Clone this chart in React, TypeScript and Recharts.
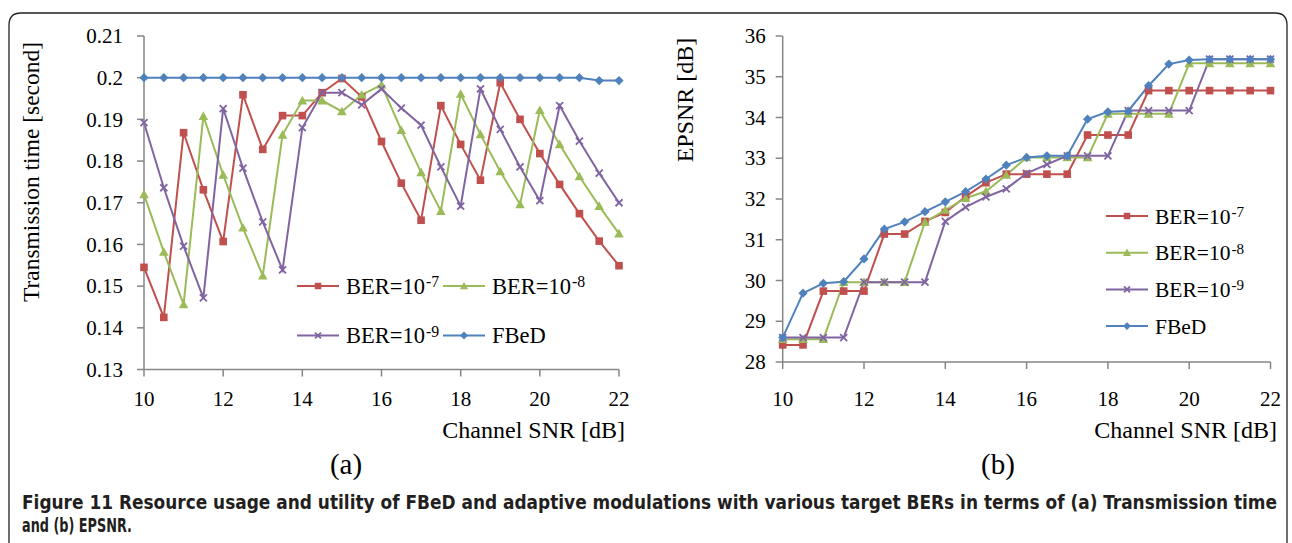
import { LineChart, Line, XAxis, YAxis, Legend, Label } from "recharts"

// Channel SNR sweep, dB
const snr = [10, 10.5, 11, 11.5, 12, 12.5, 13, 13.5, 14, 14.5, 15, 15.5, 16, 16.5, 17, 17.5, 18, 18.5, 19, 19.5, 20, 20.5, 21, 21.5, 22]

// Transmission time [s]
const timeBer7 = [0.1545, 0.1425, 0.1868, 0.1731, 0.1607, 0.1959, 0.1828, 0.1909, 0.1909, 0.1964, 0.1998, 0.1954, 0.1847, 0.1747, 0.1658, 0.1933, 0.184, 0.1754, 0.1988, 0.19, 0.1818, 0.1744, 0.1674, 0.1608, 0.1549]
const timeBer8 = [0.172, 0.1582, 0.1456, 0.1908, 0.1767, 0.164, 0.1525, 0.1863, 0.1945, 0.1945, 0.1919, 0.1959, 0.1983, 0.1874, 0.1773, 0.168, 0.1961, 0.1864, 0.1775, 0.1696, 0.1922, 0.184, 0.1763, 0.1692, 0.1626]
const timeBer9 = [0.1892, 0.1736, 0.1596, 0.1472, 0.1926, 0.1783, 0.1654, 0.1539, 0.188, 0.1964, 0.1964, 0.1935, 0.1973, 0.1927, 0.1886, 0.1786, 0.1692, 0.1973, 0.1876, 0.1786, 0.1705, 0.1933, 0.1848, 0.1771, 0.17]
const timeFbed = [0.2, 0.2, 0.2, 0.2, 0.2, 0.2, 0.2, 0.2, 0.2, 0.2, 0.2, 0.2, 0.2, 0.2, 0.2, 0.2, 0.2, 0.2, 0.2, 0.2, 0.2, 0.2, 0.2, 0.1993, 0.1993]

// EPSNR [dB]
const psnrBer7 = [28.42, 28.42, 29.74, 29.74, 29.74, 31.14, 31.14, 31.45, 31.67, 32.06, 32.4, 32.61, 32.61, 32.61, 32.61, 33.57, 33.57, 33.57, 34.66, 34.66, 34.66, 34.66, 34.66, 34.66, 34.66]
const psnrBer8 = [28.56, 28.56, 28.56, 29.96, 29.96, 29.96, 29.96, 31.43, 31.73, 32.02, 32.19, 32.59, 33.02, 33.02, 33.02, 33.02, 34.09, 34.09, 34.09, 34.09, 35.33, 35.33, 35.33, 35.33, 35.33]
const psnrBer9 = [28.6, 28.6, 28.6, 28.6, 29.96, 29.96, 29.96, 29.96, 31.45, 31.8, 32.05, 32.25, 32.63, 32.85, 33.06, 33.06, 33.06, 34.17, 34.17, 34.17, 34.17, 35.43, 35.43, 35.43, 35.43]
const psnrFbed = [28.6, 29.69, 29.93, 29.97, 30.53, 31.26, 31.44, 31.69, 31.93, 32.18, 32.49, 32.83, 33.02, 33.06, 33.06, 33.96, 34.14, 34.16, 34.78, 35.31, 35.41, 35.43, 35.43, 35.43, 35.43]

const snrTicks = [10, 12, 14, 16, 18, 20, 22]
const timeTicks = [0.13, 0.14, 0.15, 0.16, 0.17, 0.18, 0.19, 0.2, 0.21]
const psnrTicks = [28, 29, 30, 31, 32, 33, 34, 35, 36]

const serif = '"Liberation Serif", "Times New Roman", serif'
const axisGray = "#868686"

type Shape = "square" | "triangle" | "cross" | "diamond"

const series: { key: string; label: string; sup: string; color: string; shape: Shape }[] = [
  { key: "ber7", label: "BER=10", sup: "-7", color: "#C0504D", shape: "square" },
  { key: "ber8", label: "BER=10", sup: "-8", color: "#9BBB59", shape: "triangle" },
  { key: "ber9", label: "BER=10", sup: "-9", color: "#8064A2", shape: "cross" },
  { key: "fbed", label: "FBeD", sup: "", color: "#4F81BD", shape: "diamond" },
]

const timeData = snr.map((s, i) => ({
  snr: s,
  ber7: timeBer7[i],
  ber8: timeBer8[i],
  ber9: timeBer9[i],
  fbed: timeFbed[i],
}))

const psnrData = snr.map((s, i) => ({
  snr: s,
  ber7: psnrBer7[i],
  ber8: psnrBer8[i],
  ber9: psnrBer9[i],
  fbed: psnrFbed[i],
}))

function Marker({ cx, cy, shape, color, s = 1 }: { cx: number; cy: number; shape: Shape; color: string; s?: number }) {
  if (shape === "square") {
    const h = 3.8 * s
    return <rect x={cx - h} y={cy - h} width={2 * h} height={2 * h} fill={color} />
  }
  if (shape === "triangle") {
    const h = 4.8 * s
    return <polygon points={`${cx},${cy - h} ${cx + h},${cy + h * 0.8} ${cx - h},${cy + h * 0.8}`} fill={color} />
  }
  if (shape === "cross") {
    const h = 3.5 * s
    return (
      <g stroke={color} strokeWidth={1.8}>
        <line x1={cx - h} y1={cy - h} x2={cx + h} y2={cy + h} />
        <line x1={cx - h} y1={cy + h} x2={cx + h} y2={cy - h} />
      </g>
    )
  }
  const h = 4.6 * s
  return <polygon points={`${cx},${cy - h} ${cx + h},${cy} ${cx},${cy + h} ${cx - h},${cy}`} fill={color} />
}

function dotFor(shape: Shape, color: string) {
  return (p: any) => (
    <g key={`${shape}-${p.index}`}>
      <Marker cx={p.cx} cy={p.cy} shape={shape} color={color} />
    </g>
  )
}

// tick text drawn by hand so it keeps the serif face
function XTick(p: any) {
  return (
    <text x={p.x} y={p.y} dy="0.71em" textAnchor="middle" fontSize={21} fontFamily={serif} style={{ fontFamily: serif }} fill="#000">
      {p.payload.value}
    </text>
  )
}

function YTick(p: any) {
  return (
    <text x={p.x} y={p.y} dy="0.34em" textAnchor="end" fontSize={21} fontFamily={serif} style={{ fontFamily: serif }} fill="#000">
      {String(+Number(p.payload.value).toFixed(2))}
    </text>
  )
}

// legend laid out as a small grid of line + marker + label entries
function LegendGrid({ cols, colGap, rowGap, fontSize, width, height }: { cols: number; colGap: number; rowGap: number; fontSize: number; width: number; height: number }) {
  return (
    <svg width={width} height={height} style={{ display: "block" }}>
      {series.map((s, i) => {
        const x = (i % cols) * colGap + 4
        const y = Math.floor(i / cols) * rowGap + 18
        const tx = x + 49
        const labelW = s.sup ? fontSize * 3.51 : undefined
        return (
          <g key={s.key}>
            <line x1={x} y1={y} x2={x + 42} y2={y} stroke={s.color} strokeWidth={2} />
            <Marker cx={x + 21} cy={y} shape={s.shape} color={s.color} s={0.85} />
            <text x={tx} y={y + 7.5} fontSize={fontSize} fontFamily={serif} fill="#000">
              {s.label}
            </text>
            {labelW && (
              <text x={tx + labelW + 1} y={y + 1} fontSize={fontSize * 0.7} fontFamily={serif} fill="#000">
                {s.sup}
              </text>
            )}
          </g>
        )
      })}
    </svg>
  )
}

function SnrTitle({ endX, baseline }: { endX: number; baseline: number }) {
  return (
    <text x={endX} y={baseline} textAnchor="end" fontSize={24} fill="#000" fontFamily={serif}>
      Channel SNR [dB]
    </text>
  )
}

function SideTitle({ x, cy, text, size }: { x: number; cy: number; text: string; size: number }) {
  return (
    <text x={x} y={cy} transform={`rotate(-90 ${x} ${cy})`} textAnchor="middle" fontSize={size} fill="#000" fontFamily={serif}>
      {text}
    </text>
  )
}

function TimeChart() {
  return (
    <LineChart width={640} height={450} data={timeData} margin={{ top: 36, right: 21, bottom: 50.5, left: 0 }}>
      <XAxis
        dataKey="snr"
        type="number"
        domain={[10, 22]}
        ticks={snrTicks}
        height={30}
        tick={XTick}
        tickSize={7}
        tickMargin={15}
        stroke={axisGray}
        strokeWidth={1.5}
      >
        <Label content={() => <SnrTitle endX={625} baseline={438} />} />
      </XAxis>
      <YAxis
        type="number"
        domain={[0.13, 0.21]}
        ticks={timeTicks}
        width={144}
        tick={YTick}
        tickSize={7}
        tickMargin={14}
        stroke={axisGray}
        strokeWidth={1.5}
      >
        <Label content={() => <SideTitle x={39} cy={172} text="Transmission time [second]" size={23.5} />} />
      </YAxis>
      <Legend
        layout="horizontal"
        verticalAlign="middle"
        align="center"
        wrapperStyle={{ left: 293, top: 268, width: 310, height: 90 }}
        content={() => <LegendGrid cols={2} colGap={146} rowGap={49.5} fontSize={22.5} width={310} height={90} />}
      />
      {series.map((s) => (
        <Line
          key={s.key}
          type="linear"
          dataKey={s.key}
          stroke={s.color}
          strokeWidth={2}
          dot={dotFor(s.shape, s.color)}
          activeDot={false}
          isAnimationActive={false}
        />
      ))}
    </LineChart>
  )
}

function PsnrChart() {
  return (
    <LineChart width={650} height={450} data={psnrData} margin={{ top: 36, right: 19.5, bottom: 58, left: 0 }}>
      <XAxis
        dataKey="snr"
        type="number"
        domain={[10, 22]}
        ticks={snrTicks}
        height={30}
        tick={XTick}
        tickSize={7}
        tickMargin={22}
        stroke={axisGray}
        strokeWidth={1.5}
      >
        <Label content={() => <SnrTitle endX={637} baseline={438} />} />
      </XAxis>
      <YAxis
        type="number"
        domain={[28, 36]}
        ticks={psnrTicks}
        width={142.7}
        tick={YTick}
        tickSize={7}
        tickMargin={10}
        stroke={axisGray}
        strokeWidth={1.5}
      >
        <Label content={() => <SideTitle x={53} cy={100} text="EPSNR [dB]" size={24} />} />
      </YAxis>
      <Legend
        layout="horizontal"
        verticalAlign="middle"
        align="center"
        wrapperStyle={{ left: 462, top: 198, width: 170, height: 150 }}
        content={() => <LegendGrid cols={1} colGap={0} rowGap={36.7} fontSize={21.5} width={170} height={150} />}
      />
      {series.map((s) => (
        <Line
          key={s.key}
          type="linear"
          dataKey={s.key}
          stroke={s.color}
          strokeWidth={2}
          dot={dotFor(s.shape, s.color)}
          activeDot={false}
          isAnimationActive={false}
        />
      ))}
    </LineChart>
  )
}

export default function App() {
  const caption = '"Liberation Sans Narrow", "DejaVu Sans Condensed", "Liberation Sans", sans-serif'
  return (
    <div style={{ position: "absolute", left: 0, top: 0, width: 1292, height: 543, background: "#fff", overflow: "hidden" }}>
      <svg width={1292} height={543} style={{ position: "absolute", left: 0, top: 0 }}>
        <path d="M 9 543 L 9 25 Q 9 13 21 13 L 1275 13 Q 1287 13 1287 25 L 1287 543" fill="none" stroke="#231f20" strokeWidth={1.3} />
        <text x={346} y={474} textAnchor="middle" fontSize={29} fontFamily={serif} fill="#000">(a)</text>
        <text x={998} y={474} textAnchor="middle" fontSize={29} fontFamily={serif} fill="#000">(b)</text>
        {/* caption, drawn a little taller than the condensed face gives by default */}
        <g transform="translate(22 509) scale(1 1.15)">
          <text x={0} y={0} fontSize={17} fontWeight="bold" fontFamily={caption} fill="#231f20" textLength={1255} lengthAdjust="spacingAndGlyphs">
            Figure 11 Resource usage and utility of FBeD and adaptive modulations with various target BERs in terms of (a) Transmission time
          </text>
        </g>
        <g transform="translate(22 532) scale(1 1.15)">
          <text x={0} y={0} fontSize={17} fontWeight="bold" fontFamily={caption} fill="#231f20" textLength={110} lengthAdjust="spacingAndGlyphs">
            and (b) EPSNR.
          </text>
        </g>
      </svg>
      <div style={{ position: "absolute", left: 0, top: 0 }}>
        <TimeChart />
      </div>
      <div style={{ position: "absolute", left: 640, top: 0 }}>
        <PsnrChart />
      </div>
    </div>
  )
}
